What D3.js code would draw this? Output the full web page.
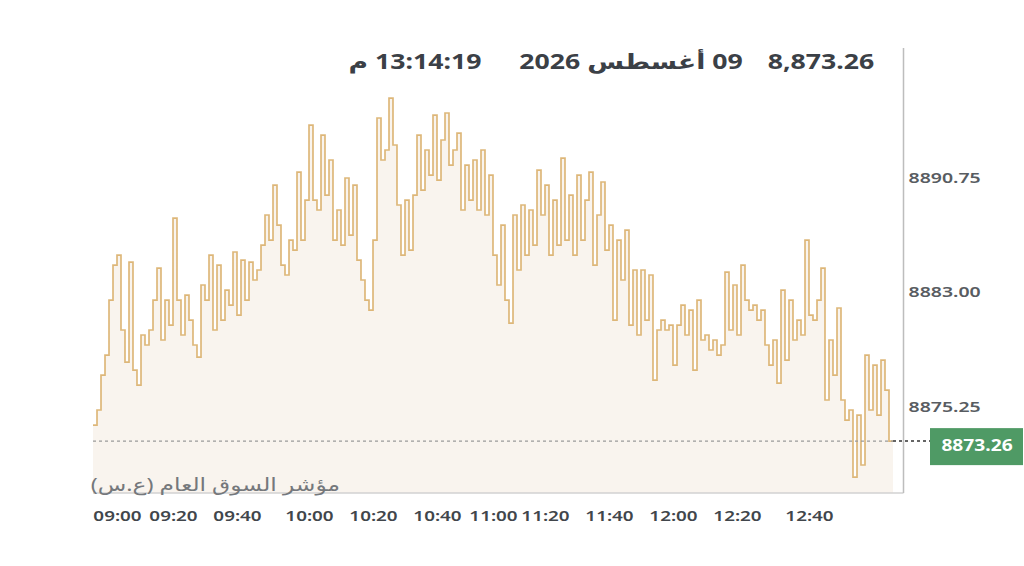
<!DOCTYPE html>
<html>
<head>
<meta charset="utf-8">
<script src="https://cdn.jsdelivr.net/npm/d3@7"></script>
<style>
  html, body { margin: 0; padding: 0; background: #fff; }
  svg { display: block; }
  svg text { font-family: "Noto Sans", "DejaVu Sans", sans-serif; }
</style>
</head>
<body>
<div id="chart"></div>
<script>
// index values, one per sample
const values = [
  8874.35, 8875.37, 8877.74, 8879.10, 8882.83, 8885.20, 8885.88, 8880.80, 8878.62, 8885.41,
  8878.08, 8877.06, 8880.46, 8879.78, 8880.80, 8882.83, 8885.00, 8880.12, 8882.83, 8881.13,
  8888.39, 8882.83, 8880.46, 8883.17, 8881.47, 8879.78, 8878.96, 8883.85, 8882.83, 8885.88,
  8880.80, 8885.20, 8881.47, 8883.51, 8882.49, 8886.09, 8881.81, 8885.54, 8882.83, 8885.41,
  8884.19, 8884.87, 8886.56, 8888.60, 8886.90, 8890.63, 8887.92, 8885.20, 8884.53, 8886.90,
  8886.22, 8891.51, 8886.90, 8889.61, 8894.70, 8889.61, 8888.94, 8894.02, 8889.95, 8892.33,
  8886.90, 8888.94, 8886.56, 8891.11, 8887.24, 8890.63, 8885.54, 8884.19, 8882.83, 8882.15,
  8886.90, 8895.18, 8892.33, 8893.01, 8896.53, 8893.35, 8889.28, 8885.88, 8889.61, 8886.22,
  8889.95, 8894.02, 8890.29, 8893.01, 8891.31, 8895.38, 8890.97, 8893.69, 8895.52, 8891.99,
  8893.01, 8894.16, 8888.94, 8891.99, 8889.61, 8892.33, 8888.94, 8893.01, 8888.60, 8891.31,
  8885.88, 8883.85, 8887.92, 8882.83, 8881.27, 8888.60, 8884.87, 8889.28, 8885.88, 8888.94,
  8886.56, 8891.65, 8888.60, 8890.63, 8885.88, 8889.61, 8886.56, 8892.46, 8886.90, 8889.95,
  8885.88, 8891.31, 8886.90, 8889.61, 8891.51, 8885.20, 8888.60, 8890.84, 8886.22, 8887.92,
  8881.47, 8886.90, 8884.19, 8887.58, 8881.13, 8884.87, 8880.46, 8884.87, 8881.47, 8884.53,
  8877.40, 8880.80, 8881.47, 8880.80, 8881.13, 8878.42, 8881.13, 8882.49, 8880.46, 8882.15,
  8878.08, 8882.83, 8880.12, 8880.46, 8879.44, 8880.12, 8879.10, 8879.78, 8884.73, 8880.80,
  8883.85, 8880.46, 8885.20, 8882.83, 8882.15, 8882.49, 8881.47, 8882.15, 8879.78, 8878.42,
  8880.12, 8877.20, 8883.51, 8878.76, 8882.83, 8880.12, 8881.47, 8880.46, 8886.90, 8881.81,
  8881.47, 8882.83, 8885.00, 8876.05, 8880.12, 8877.74, 8882.29, 8876.05, 8874.69, 8875.37,
  8870.82, 8875.03, 8871.64, 8879.10, 8875.37, 8878.42, 8875.03, 8878.76, 8876.72, 8873.26,
  8873.26
];

// time labels and the sample index each one sits on
const xTickLabels = ["09:00", "09:20", "09:40", "10:00", "10:20", "10:40", "11:00", "11:20", "11:40", "12:00", "12:20", "12:40"];
const xTickIndex = [6, 20, 36, 54, 70, 86, 100, 113, 129, 145, 161, 179];

const yTicks = [8875.25, 8883.00, 8890.75];
const lastValue = 8873.26;

const headerValue = "8,873.26";
const headerDate = "09 أغسطس 2026";
const headerTime = "13:14:19 م";
const indexName = "مؤشر السوق العام (ع.س)";

/** set chart design */
var width = 1024,
  height = 566;

var plotLeft = 93, plotRight = 903.5, plotTop = 48, plotBottom = 493;

// the texts of the original are drawn a bit wide
var stretch = 'scale(1.3,1)';

var x = d3.scaleLinear()
  .domain([0, values.length - 1])
  .range([plotLeft, 893]);

var y = d3.scaleLinear()
  .domain([8869.74, 8899.93])
  .range([plotBottom, plotTop]);

var svg = d3.select('#chart').append('svg')
  .attr('width', width)
  .attr('height', height);

// beige area under the line
var area = d3.area()
  .x(function (d, i) { return x(i); })
  .y0(plotBottom)
  .y1(function (d) { return y(d); })
  .curve(d3.curveStepAfter);

svg.append('path')
  .datum(values)
  .attr('d', area)
  .style('fill', '#f9f4ee');

// price line
var line = d3.line()
  .x(function (d, i) { return x(i); })
  .y(function (d) { return y(d); })
  .curve(d3.curveStepAfter);

svg.append('path')
  .datum(values)
  .attr('d', line)
  .style('fill', 'none')
  .style('stroke', '#d6a65a')
  .style('stroke-opacity', 0.8)
  .style('stroke-width', 1.7);

// plot borders
svg.append('line')
  .attr('x1', plotLeft).attr('x2', plotRight)
  .attr('y1', plotBottom).attr('y2', plotBottom)
  .style('stroke', '#d2d2d2')
  .style('stroke-width', 1.5);

svg.append('line')
  .attr('x1', plotRight).attr('x2', plotRight)
  .attr('y1', plotTop).attr('y2', plotBottom)
  .style('stroke', '#bdbdbd')
  .style('stroke-width', 1.5);

// last value dotted line
svg.append('line')
  .attr('x1', plotLeft).attr('x2', x(values.length - 1))
  .attr('y1', y(lastValue)).attr('y2', y(lastValue))
  .style('stroke', '#9a9a9a')
  .style('stroke-width', 1.3)
  .style('stroke-dasharray', '3,3');

svg.append('line')
  .attr('x1', x(values.length - 1)).attr('x2', 930)
  .attr('y1', y(lastValue)).attr('y2', y(lastValue))
  .style('stroke', '#333')
  .style('stroke-width', 1.5)
  .style('stroke-dasharray', '3,3');

// y axis on the right
var yAxis = d3.axisRight(y)
  .tickValues(yTicks)
  .tickFormat(d3.format('.2f'))
  .tickSize(0)
  .tickPadding(5);

var gy = svg.append('g')
  .attr('transform', 'translate(' + plotRight + ',0)')
  .call(yAxis)
  .attr('font-family', null);
gy.select('.domain').remove();
gy.selectAll('text')
  .attr('x', 0)
  .attr('dy', '-0.05em')
  .attr('transform', 'translate(5,0) ' + stretch)
  .style('font-size', '15px')
  .style('font-weight', '600')
  .style('fill', '#585c61');

// x axis labels
var xAxis = d3.axisBottom(x)
  .tickValues(xTickIndex)
  .tickFormat(function (d, i) { return xTickLabels[i]; })
  .tickSize(0)
  .tickPadding(18);

var gx = svg.append('g')
  .attr('transform', 'translate(0,' + plotBottom + ')')
  .call(xAxis)
  .attr('font-family', null);
gx.select('.domain').remove();
gx.selectAll('text')
  .attr('transform', stretch)
  .style('font-size', '14.5px')
  .style('font-weight', '600')
  .style('fill', '#41464b');

// last value badge
svg.append('rect')
  .attr('x', 930)
  .attr('y', y(lastValue) - 13)
  .attr('width', 93)
  .attr('height', 37)
  .style('fill', '#4f9a65');

svg.append('text')
  .attr('transform', 'translate(977,' + (y(lastValue) + 6) + ') scale(1.2,1)')
  .attr('text-anchor', 'middle')
  .attr('dominant-baseline', 'middle')
  .style('font-size', '16px')
  .style('font-weight', '700')
  .style('fill', '#fff')
  .text(d3.format('.2f')(lastValue));

// index name
svg.append('text')
  .attr('transform', 'translate(340,491) ' + stretch)
  .attr('direction', 'rtl')
  .attr('text-anchor', 'start')
  .style('font-size', '18px')
  .style('fill', '#75787c')
  .text(indexName);

// header
var header = [
  { text: headerValue, cx: 821 },
  { text: headerDate, cx: 631 },
  { text: headerTime, cx: 415 }
];

svg.selectAll('.header')
  .data(header)
  .enter().append('text')
  .attr('class', 'header')
  .attr('transform', function (d) { return 'translate(' + d.cx + ',69) ' + stretch; })
  .attr('direction', 'rtl')
  .attr('text-anchor', 'middle')
  .style('font-size', '20.5px')
  .style('font-weight', '700')
  .style('fill', '#3b4046')
  .text(function (d) { return d.text; });
</script>
</body>
</html>
